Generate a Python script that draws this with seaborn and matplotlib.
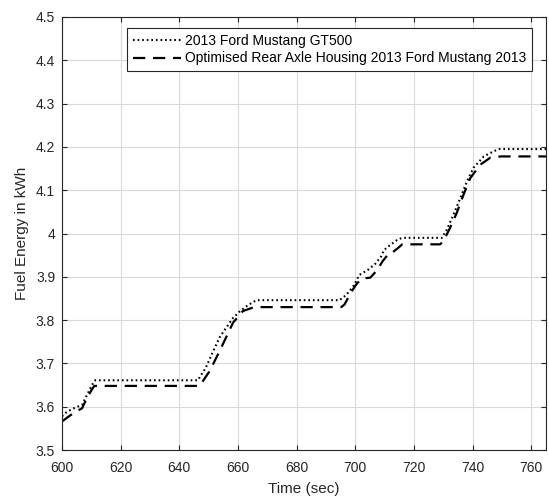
import matplotlib
matplotlib.use("Agg")
import matplotlib.pyplot as plt
import seaborn as sns
import pandas as pd

# GT500 (dotted)
t_gt500 = [600, 601.6, 604.5, 606.8, 608.5, 610.2, 611.3, 646.3, 649, 653.7, 658.3, 660.6,
           663.5, 666.3, 694.6, 696.9, 699.6, 701.3, 704.5, 706.8, 708.8, 709.8, 712, 714.4,
           716, 729.5, 731.2, 733.5, 735.8, 738.1, 740.3, 743.8, 747.2, 749, 765]
e_gt500 = [3.578, 3.588, 3.598, 3.604, 3.627, 3.65, 3.661, 3.661, 3.69, 3.76, 3.805, 3.82,
           3.835, 3.846, 3.846, 3.858, 3.881, 3.904, 3.917, 3.93, 3.947, 3.962, 3.974, 3.986,
           3.99, 3.99, 4.009, 4.044, 4.082, 4.121, 4.152, 4.178, 4.19, 4.195, 4.195]

# Optimised rear axle housing (dashed)
t_opt = [600, 602.8, 605, 606.8, 608.5, 610.2, 611, 646.9, 650.3, 653.7, 658.3, 661.7,
         665.1, 667, 695.2, 696.3, 698.7, 700.6, 702.3, 705.1, 707.4, 709.2, 711.4, 712.6,
         714.3, 716, 728.9, 730, 732.3, 734.6, 736.9, 739.2, 742.6, 746, 749.6, 765]
e_opt = [3.566, 3.58, 3.59, 3.596, 3.62, 3.64, 3.648, 3.648, 3.682, 3.728, 3.794, 3.821,
         3.829, 3.83, 3.83, 3.836, 3.866, 3.885, 3.896, 3.898, 3.915, 3.935, 3.954, 3.956,
         3.965, 3.975, 3.975, 3.982, 4.013, 4.048, 4.09, 4.128, 4.159, 4.175, 4.178, 4.178]

labels = ["2013 Ford Mustang GT500",
          "Optimised Rear Axle Housing 2013 Ford Mustang 2013"]
x_ticks = [600, 620, 640, 660, 680, 700, 720, 740, 760]
y_ticks = [3.5, 3.6, 3.7, 3.8, 3.9, 4.0, 4.1, 4.2, 4.3, 4.4, 4.5]
y_tick_labels = ["3.5", "3.6", "3.7", "3.8", "3.9", "4", "4.1", "4.2", "4.3", "4.4", "4.5"]

plt.rcParams['font.family'] = ['Liberation Sans', 'DejaVu Sans']

fig = plt.figure(figsize=(5.49, 5.0), dpi=100)
ax = fig.add_axes([0.113, 0.1, 0.8815, 0.866])

df1 = pd.DataFrame({"t": t_gt500, "e": e_gt500})
df2 = pd.DataFrame({"t": t_opt, "e": e_opt})
sns.lineplot(data=df1, x="t", y="e", ax=ax, color="black", lw=1.5,
             linestyle=(0, (0.8, 1.4)), label=labels[0])
sns.lineplot(data=df2, x="t", y="e", ax=ax, color="black", lw=1.6,
             linestyle=(0, (5.5, 3.5)), label=labels[1])

ax.set_xlim(600, 765)
ax.set_ylim(3.5, 4.5)
ax.set_xticks(x_ticks)
ax.set_xticklabels([str(v) for v in x_ticks])
ax.set_yticks(y_ticks)
ax.set_yticklabels(y_tick_labels)
ax.grid(True, color="#d9d9d9", lw=0.8)
ax.set_axisbelow(True)
dark = "#262626"
for s in ax.spines.values():
    s.set_color(dark)
    s.set_linewidth(0.8)
ax.tick_params(direction="in", length=3.5, width=0.8, colors=dark, labelsize=10,
               top=True, right=True, labelcolor=dark)
ax.tick_params(axis="x", pad=8)
ax.tick_params(axis="y", pad=5)
ax.set_xlabel("Time (sec)", fontsize=11, color=dark, labelpad=5)
ax.set_ylabel("Fuel Energy in kWh", fontsize=11, color=dark, labelpad=5)

leg = ax.legend(loc="upper right", bbox_to_anchor=(0.971, 0.974), fontsize=10,
                handlelength=3.5, handletextpad=0.3, borderpad=0.38,
                labelspacing=0.28, fancybox=False, framealpha=1,
                edgecolor=dark, borderaxespad=0)
leg.get_frame().set_linewidth(0.8)
for txt in leg.get_texts():
    txt.set_color("black")

fig.savefig("out.png", dpi=100)
